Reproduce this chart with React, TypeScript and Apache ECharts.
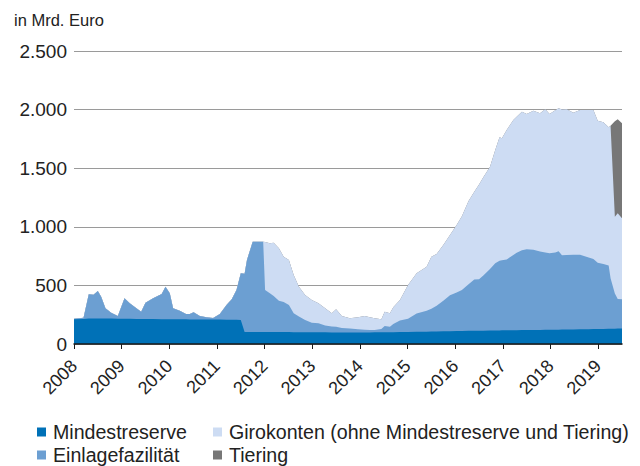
import React, { useEffect, useRef } from "react";
import * as echarts from "echarts";

const years = [
  2008.0, 2008.2, 2008.31, 2008.41, 2008.5, 2008.57, 2008.66, 2008.78, 2008.92,
  2009.06, 2009.17, 2009.31, 2009.41, 2009.5, 2009.66, 2009.84, 2009.92,
  2010.01, 2010.08, 2010.22, 2010.35, 2010.43, 2010.51, 2010.64, 2010.78, 2010.92,
  2011.06, 2011.2, 2011.31, 2011.41, 2011.5, 2011.58, 2011.63, 2011.75, 2011.97,
  2012.01, 2012.11, 2012.19, 2012.3, 2012.4, 2012.51, 2012.61, 2012.72, 2012.85, 2012.99,
  2013.13, 2013.27, 2013.41, 2013.5, 2013.62, 2013.79, 2013.96,
  2014.1, 2014.21, 2014.31, 2014.45, 2014.52, 2014.63, 2014.7, 2014.84,
  2015.01, 2015.19, 2015.4, 2015.5, 2015.61, 2015.75, 2015.89,
  2016.03, 2016.14, 2016.28, 2016.4, 2016.5, 2016.59, 2016.73, 2016.84, 2016.93, 2016.98,
  2017.08, 2017.22, 2017.29, 2017.4, 2017.5, 2017.64, 2017.78, 2017.89, 2017.98,
  2018.1, 2018.17, 2018.24, 2018.34, 2018.48, 2018.62, 2018.8, 2018.9, 2018.99,
  2019.11, 2019.22, 2019.26, 2019.35, 2019.41, 2019.5,
];

const mindestreserve = [
  211, 213, 218, 218, 218, 218, 218, 217, 216,
  215, 215, 214, 214, 213, 213, 212, 212,
  212, 212, 211, 211, 210, 210, 210, 209, 209,
  208, 207, 207, 206, 205, 103, 103, 103, 103,
  103, 103, 103, 102, 102, 102, 101, 101, 101, 100,
  100, 100, 99, 99, 99, 99, 99,
  99, 99, 100, 100, 100, 101, 101, 102,
  103, 104, 105, 106, 107, 108, 109,
  110, 111, 112, 113, 114, 114, 115, 116, 116, 117,
  117, 118, 118, 119, 119, 120, 120, 121, 121,
  122, 122, 123, 123, 124, 125, 126, 127, 128,
  129, 130, 130, 131, 132, 133,
];

const einlagefazilitaet = [
  4, 12, 207, 203, 234, 186, 86, 50, 23,
  175, 132, 90, 62, 139, 177, 215, 277,
  220, 92, 73, 45, 46, 60, 29, 19, 13,
  48, 126, 174, 255, 398, 497, 614, 770, 770,
  358, 329, 307, 268, 256, 231, 161, 134, 104, 82,
  76, 58, 51, 49, 37, 33, 26,
  23, 20, 20, 28, 54, 47, 69, 98,
  112, 156, 179, 194, 220, 262, 306,
  330, 350, 398, 437, 439, 471, 525, 574, 595, 598,
  605, 642, 661, 681, 689, 685, 670, 659, 653,
  658, 669, 634, 637, 638, 637, 611, 598, 566,
  553, 540, 430, 299, 252, 248,
];

const girokonten = [
  0, 0, 0, 0, 0, 0, 0, 0, 0,
  0, 0, 0, 0, 0, 0, 0, 0,
  0, 0, 0, 0, 0, 0, 0, 0, 0,
  0, 0, 0, 0, 0, 0, 0, 0, 0,
  409, 427, 454, 446, 387, 384, 327, 254, 213, 193,
  171, 146, 112, 148, 103, 87, 103,
  117, 109, 99, 83, 122, 114, 143, 175,
  288, 343, 376, 445, 441, 475, 515,
  575, 629, 710, 750, 807, 837, 873, 965, 1053, 1040,
  1104, 1151, 1161, 1182, 1154, 1186, 1178, 1222, 1188,
  1215, 1220, 1243, 1242, 1211, 1235, 1260, 1272, 1211,
  1209, 1179, 1302, 656, 731, 691,
];

const tiering = [
  0, 0, 0, 0, 0, 0, 0, 0, 0,
  0, 0, 0, 0, 0, 0, 0, 0,
  0, 0, 0, 0, 0, 0, 0, 0, 0,
  0, 0, 0, 0, 0, 0, 0, 0, 0,
  0, 0, 0, 0, 0, 0, 0, 0, 0, 0,
  0, 0, 0, 0, 0, 0, 0,
  0, 0, 0, 0, 0, 0, 0, 0,
  0, 0, 0, 0, 0, 0, 0,
  0, 0, 0, 0, 0, 0, 0, 0, 0, 0,
  0, 0, 0, 0, 0, 0, 0, 0, 0,
  0, 0, 0, 0, 0, 0, 0, 0, 0,
  0, 0, 0, 814, 802, 811,
];

const tickYears = [2008, 2009, 2010, 2011, 2012, 2013, 2014, 2015, 2016, 2017, 2018, 2019];
const yTicks = [0, 500, 1000, 1500, 2000, 2500];

const seriesNames = [
  "Mindestreserve",
  "Einlagefazilität",
  "Girokonten (ohne Mindestreserve und Tiering)",
  "Tiering",
];
const seriesColors = ["#0071b7", "#6c9fd2", "#cddcf3", "#777777"];

const FONT = "'Liberation Sans', Arial, Helvetica, sans-serif";

function fmtDe(v: number): string {
  const s = String(Math.round(v));
  return s.replace(/\B(?=(\d{3})+(?!\d))/g, ".");
}

export default function App() {
  const ref = useRef<HTMLDivElement>(null);
  useEffect(() => {
    if (!ref.current) return;
    const chart = echarts.init(ref.current, undefined, { renderer: "svg" });
    const components = [mindestreserve, einlagefazilitaet, girokonten, tiering];
    // cumulative tops (stacked), drawn as overlapping areas from 0
    const cumulative: number[][] = [];
    components.forEach((arr, i) => {
      cumulative.push(arr.map((v, j) => v + (i > 0 ? cumulative[i - 1][j] : 0)));
    });
    const series = [3, 2, 1, 0].map((i) => ({
      name: seriesNames[i],
      type: "line",
      symbol: "none",
      showSymbol: false,
      lineStyle: { width: 0 },
      areaStyle: { color: seriesColors[i], opacity: 1 },
      itemStyle: { color: seriesColors[i] },
      data: years.map((y, j) => [y, cumulative[i][j]]),
      silent: true,
    }));
    const legendBase = {
      orient: "horizontal",
      padding: 0,
      itemWidth: 9,
      itemHeight: 9,
      icon: "rect",
      selectedMode: false,
      textStyle: { fontFamily: FONT, fontSize: 19.6, lineHeight: 20, color: "#222", padding: [0, 0, 0, 2] },
    };
    const legendPos = [
      { left: 37, top: 422 },
      { left: 37, top: 445 },
      { left: 213, top: 422 },
      { left: 213, top: 445 },
    ];
    chart.setOption({
      animation: false,
      textStyle: { fontFamily: FONT },
      title: {
        text: "in Mrd. Euro",
        left: 9,
        top: 6,
        textStyle: { fontFamily: FONT, fontSize: 16.5, fontWeight: "normal", color: "#222" },
      },
      grid: { left: 74, right: 18, top: 51, bottom: 122, containLabel: false },
      xAxis: {
        type: "value",
        min: 2008,
        max: 2019.5,
        interval: 1,
        splitLine: { show: false },
        axisLine: { show: true, lineStyle: { color: "#1a1a1a", width: 1.5 } },
        axisTick: { show: true, length: 5, lineStyle: { color: "#1a1a1a" }, customValues: tickYears },
        axisLabel: {
          customValues: tickYears,
          rotate: 45,
          fontSize: 18,
          color: "#222",
          fontFamily: FONT,
          margin: 19,
          formatter: (v: number) => String(v),
        },
        z: 5,
      },
      yAxis: {
        type: "value",
        min: 0,
        max: 2500,
        interval: 500,
        axisLine: { show: false },
        axisTick: { show: false },
        splitLine: { show: true, lineStyle: { color: "#9a9a9a", width: 1 } },
        axisLabel: {
          customValues: yTicks,
          fontSize: 19,
          color: "#222",
          fontFamily: FONT,
          margin: 7,
          formatter: (v: number) => fmtDe(v),
        },
      },
      legend: seriesNames.map((n, i) => ({ ...legendBase, ...legendPos[i], data: [n] })),
      series,
    });
    return () => chart.dispose();
  }, []);
  return <div ref={ref} style={{ width: 640, height: 466, position: "absolute", left: 0, top: 0 }} />;
}
